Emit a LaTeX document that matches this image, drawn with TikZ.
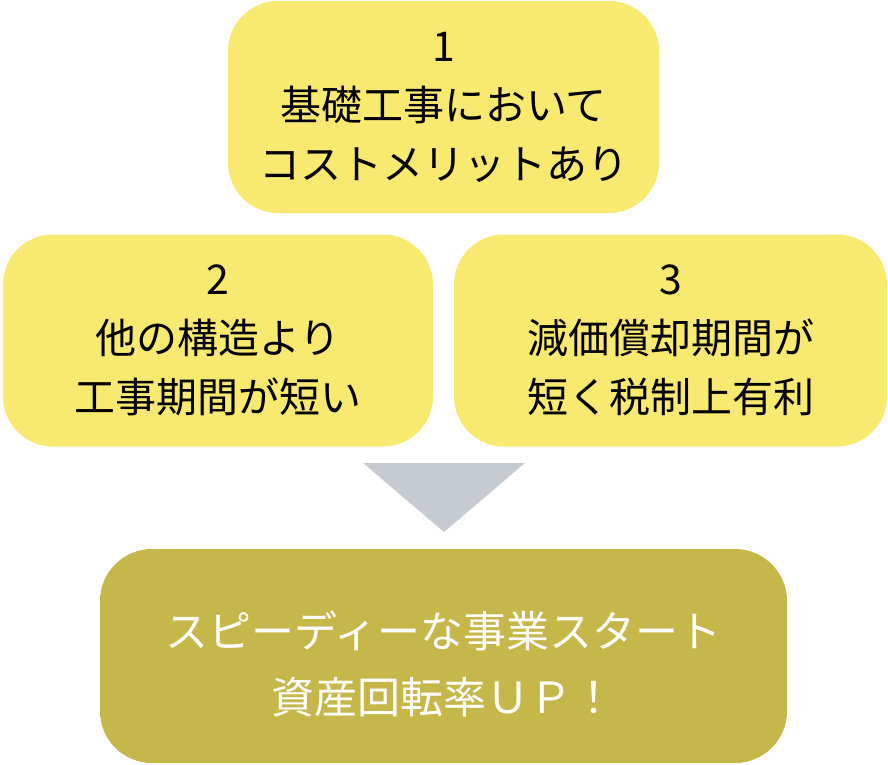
\documentclass[tikz,border=0pt]{standalone}
\usepackage{fontspec}
\setmainfont{Noto Sans CJK JP}
\usepackage{tikz}
\usetikzlibrary{positioning}

\definecolor{boxyellow}{HTML}{F8E971}
\definecolor{boxgold}{HTML}{C6B74A}
\definecolor{arrowgray}{HTML}{C6CAD1}

\tikzset{
    pointbox/.style={fill=boxyellow, rounded corners=50pt, inner sep=0pt,
        minimum height=212pt, align=center,
        font=\fontsize{41}{59}\selectfont},
    resultbox/.style={fill=boxgold, rounded corners=52pt, inner sep=0pt,
        minimum width=687pt, minimum height=214pt, align=center,
        text=white, font=\fontsize{43}{66}\selectfont}
}

\begin{document}
\begin{tikzpicture}[x=1pt, y=-1pt]
    \useasboundingbox (0,0) rectangle (888,764);
    \node[pointbox, minimum width=431pt] (cost) at (443.5,107)
        {1\\基礎工事において\\コストメリットあり};
    \node[pointbox, minimum width=430pt] (term) at (218,340.5)
        {2\\他の構造より\\工事期間が短い};
    \node[pointbox, minimum width=433pt] (tax) at (670.5,340.5)
        {3\\減価償却期間が\\短く税制上有利};
    % strut pushes the two lines a little lower
    \node[resultbox] (start) at (443.5,656)
        {\rule{0pt}{52pt}スピーディーな事業スタート\\資産回転率ＵＰ！};
    % down arrow
    \coordinate (tipL) at (363,463);
    \coordinate (tipR) at (525,463);
    \coordinate (tipB) at (444,532);
    \fill[arrowgray] (tipL) -- (tipR) -- (tipB) -- cycle;
\end{tikzpicture}
\end{document}
